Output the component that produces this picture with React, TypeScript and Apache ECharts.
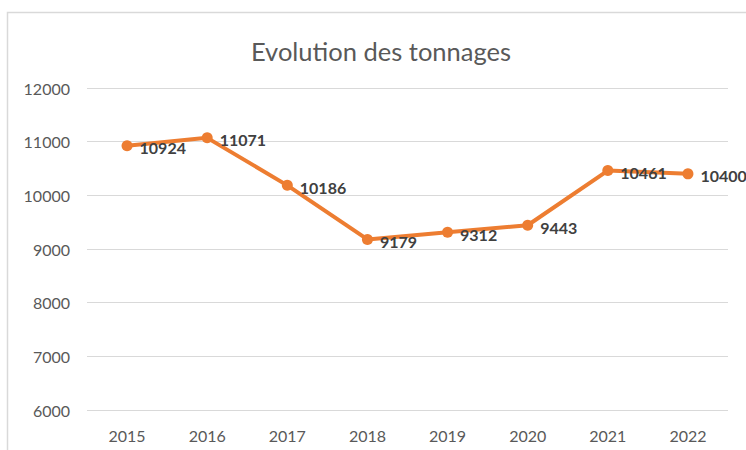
import React, { useEffect, useRef } from "react";
import * as echarts from "echarts";

const years = ["2015", "2016", "2017", "2018", "2019", "2020", "2021", "2022"];
const tonnages = [10924, 11071, 10186, 9179, 9312, 9443, 10461, 10400];
const titleText = "Evolution des tonnages";

export default function App() {
  const ref = useRef<HTMLDivElement>(null);
  useEffect(() => {
    const chart = echarts.init(ref.current!, null, { renderer: "svg" });
    chart.setOption({
      animation: false,
      backgroundColor: "#ffffff",
      title: {
        text: titleText,
        left: 376,
        textAlign: "center",
        top: 33,
        textStyle: { fontFamily: "Lato", fontWeight: "normal", fontSize: 25.5, color: "#595959" },
      },
      graphic: [
        {
          type: "rect",
          shape: { x: 7.5, y: 12.5, width: 800, height: 500 },
          style: { fill: "none", stroke: "#d9d9d9", lineWidth: 1.5 },
          silent: true,
        },
      ],
      grid: { left: 87, right: 18, top: 88, bottom: 40, containLabel: false },
      xAxis: {
        type: "category",
        data: years,
        boundaryGap: true,
        axisLine: { show: false },
        axisTick: { show: false },
        axisLabel: { fontFamily: "Lato", fontSize: 16, color: "#595959", margin: 17 },
      },
      yAxis: {
        type: "value",
        min: 6000,
        max: 12000,
        interval: 1000,
        axisLine: { show: false },
        axisTick: { show: false },
        axisLabel: {
          fontFamily: "Lato",
          fontSize: 16,
          color: "#595959",
          margin: 17,
          formatter: (v: number) => String(v),
        },
        splitLine: { lineStyle: { color: "#d9d9d9", width: 1 } },
      },
      series: [
        {
          type: "line",
          data: tonnages,
          symbol: "circle",
          symbolSize: 11,
          itemStyle: { color: "#ED7D31" },
          lineStyle: { color: "#ED7D31", width: 4 },
          label: {
            show: true,
            position: "right",
            distance: 7,
            fontFamily: "Lato",
            fontWeight: "bold",
            fontSize: 16,
            color: "#404040",
            offset: [0, 2],
          },
        },
      ],
    });
    return () => chart.dispose();
  }, []);
  return (
    <div
      ref={ref}
      style={{ position: "fixed", left: 0, top: 0, width: 746, height: 450 }}
    />
  );
}
